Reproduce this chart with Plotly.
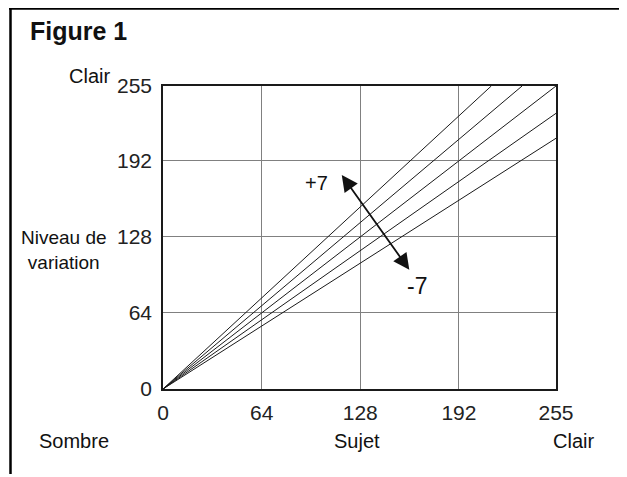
import plotly.graph_objects as go

# Data
tick_vals = [0, 64, 128, 192, 255]
tick_text = ["0", "64", "128", "192", "255"]
line_x_end = [213, 233, 255, 255, 255]
line_y_end = [255, 255, 255, 232, 211]
arrow_start = (116, 180)
arrow_end = (160.5, 99)

FONT = "Liberation Sans, Arial, Helvetica, sans-serif"
# page body has an 8px margin; figure sized so plot area lands where the reference has it
W, H = 619, 469
L, R, T, B = 155, 71, 78, 88
pw, ph = W - L - R, H - T - B
OFF = 8

def px(x):  # page pixel x -> paper
    return (x - OFF - L) / pw

def py(y):  # page pixel y -> paper
    return (H - B - (y - OFF)) / ph

fig = go.Figure()
for xe, ye in zip(line_x_end, line_y_end):
    fig.add_trace(go.Scatter(x=[0, xe], y=[0, ye], mode="lines",
                             line=dict(color="#1a1a1a", width=1),
                             hoverinfo="skip", showlegend=False))

axis_common = dict(range=[0, 255], tickvals=tick_vals, ticktext=tick_text,
                   showgrid=True, gridcolor="#808080", gridwidth=1,
                   showline=True, linecolor="#1a1a1a", linewidth=1.5, mirror=True,
                   zeroline=False, ticks="", tickfont=dict(family=FONT, size=21, color="#222"),
                   fixedrange=True)

fig.update_xaxes(**axis_common, ticklabelstandoff=4)
fig.update_yaxes(**axis_common, ticklabelstandoff=5)

def txt(x, y, s, size=20, bold=False, anchor="center"):
    return dict(x=px(x), y=py(y), xref="paper", yref="paper",
                text=f"<b>{s}</b>" if bold else s, showarrow=False,
                xanchor=anchor, yanchor="middle", align="center",
                font=dict(family=FONT, size=size, color="#111"))

anns = [
    txt(28, 31, "Figure 1", size=25, bold=True, anchor="left"),
    txt(89, 76, "Clair"),
    txt(63.5, 250, "Niveau de<br>variation", size=19),
    txt(74, 441, "Sombre"),
    txt(357, 441, "Sujet"),
    txt(573, 441, "Clair"),
    dict(x=99.5, y=173, xref="x", yref="y", text="+7", showarrow=False,
         font=dict(family=FONT, size=20, color="#111")),
    dict(x=165, y=87, xref="x", yref="y", text="-7", showarrow=False,
         font=dict(family=FONT, size=23, color="#111")),
    dict(x=arrow_start[0], y=arrow_start[1], ax=arrow_end[0], ay=arrow_end[1],
         xref="x", yref="y", axref="x", ayref="y", text="", showarrow=True,
         arrowhead=2, startarrowhead=2, arrowside="end+start",
         arrowsize=1.8, startarrowsize=1.8, arrowwidth=1.8, arrowcolor="#111"),
]

shapes = [
    dict(type="line", xref="paper", yref="paper", x0=px(9), x1=px(640), y0=py(8.5), y1=py(8.5),
         line=dict(color="#000", width=2.5)),
    dict(type="line", xref="paper", yref="paper", x0=px(10.5), x1=px(10.5), y0=py(7.5), y1=py(474),
         line=dict(color="#000", width=2.5)),
]

fig.update_layout(width=W, height=H, margin=dict(l=L, r=R, t=T, b=B),
                  paper_bgcolor="white", plot_bgcolor="white",
                  annotations=anns, shapes=shapes, showlegend=False,
                  font=dict(family=FONT))
fig.write_html("out.html", config={"displayModeBar": False})
